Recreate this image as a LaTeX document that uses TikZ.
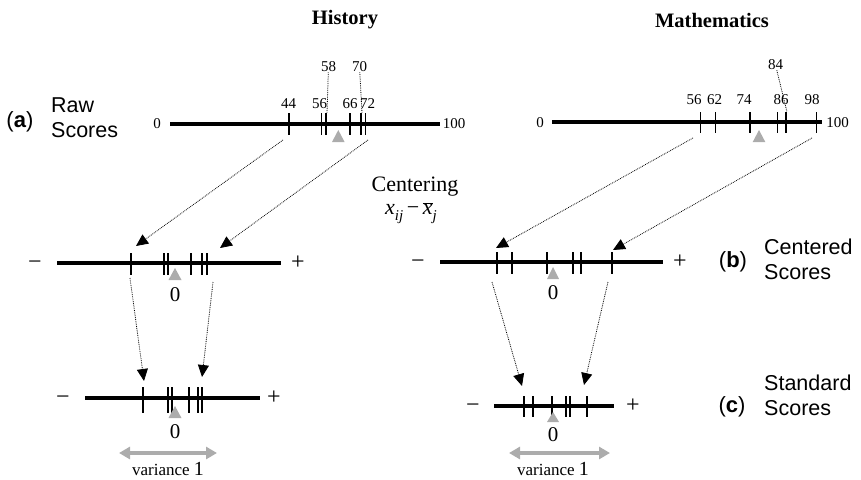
\documentclass[tikz,border=0pt]{standalone}
\usepackage{fontspec}
\setmainfont{Liberation Serif}
\setsansfont{Liberation Sans}
\usetikzlibrary{arrows.meta}
\definecolor{MeanGray}{RGB}{172,172,172}

\begin{document}
\begin{tikzpicture}[x=1pt,y=-1pt,>={Triangle[length=12pt,width=11pt]},
    axisline/.style={line width=4pt},
    tickmark/.style={line width=1.5pt},
    num/.style={inner sep=0pt,font=\fontsize{15}{15}\selectfont},
    sign/.style={inner sep=0pt,anchor=base,font=\fontsize{24}{24}\selectfont},
    zero/.style={inner sep=0pt,font=\fontsize{21}{21}\selectfont},
    title/.style={inner sep=0pt,font=\bfseries\fontsize{20.5}{20.5}\selectfont},
    tag/.style={inner sep=0pt,font=\sffamily\fontsize{22}{22}\selectfont},
    tagtext/.style={inner sep=0pt,anchor=west,align=left,font=\sffamily\fontsize{21.5}{25}\selectfont},
    leader/.style={densely dotted,line width=0.8pt},
    maparrow/.style={->,densely dotted,line width=0.8pt},
    spread/.style={{Triangle[length=11pt,width=12pt]}-{Triangle[length=11pt,width=12pt]},MeanGray,line width=3.5pt},
    varlabel/.style={inner sep=0pt,anchor=base}]
  \useasboundingbox (0,0) rectangle (861,479);

  % titles
  \node[title] (hist) at (345,20) {History};
  \node[title] (math) at (712,20) {Mathematics};

  % (a) raw scores
  \node[tag] (taga) at (20,122) {(\textbf{a})};
  \node[tagtext] (texta) at (51,118) {Raw\\Scores};
  \draw[axisline] (170,123.5) -- (440,123.5);
  \foreach \x in {289,321.7,326,350,361,365.7}
    \draw[tickmark] (\x,113) -- (\x,135);
  \fill[MeanGray] (332,142) -- (338.3,130) -- (344.6,142) -- cycle;
  \node[num] (h0) at (157,124) {0};
  \node[num] (h100) at (454,124) {100};
  \node[num] (h44) at (288.5,104) {44};
  \node[num] (h56) at (319.5,104) {56};
  \node[num] (h66) at (350,104) {66};
  \node[num] (h72) at (367.5,104) {72};
  \node[num] (h58) at (328.5,67) {58};
  \node[num] (h70) at (359.5,67) {70};
  \coordinate (h58t) at (327,113);
  \coordinate (h70t) at (362,113);
  \draw[leader] (h58) -- (h58t);
  \draw[leader] (h70) -- (h70t);

  \draw[axisline] (552,122.3) -- (821.7,122.3);
  \foreach \x in {700.7,715.7,750,777.7,786,816.5}
    \draw[tickmark] (\x,112) -- (\x,133);
  \fill[MeanGray] (752.7,142) -- (759,130) -- (765.3,142) -- cycle;
  \node[num] (m0) at (540,123) {0};
  \node[num] (m100) at (837.5,123) {100};
  \node[num] (m56) at (694,99.5) {56};
  \node[num] (m62) at (714.5,99.5) {62};
  \node[num] (m74) at (744,99.5) {74};
  \node[num] (m86) at (781,99.5) {86};
  \node[num] (m98) at (812,99.5) {98};
  \node[num] (m84) at (775.5,65) {84};
  \coordinate (m84t) at (787,112);
  \draw[leader] (m84) -- (m84t);

  % centering
  \node[inner sep=0pt,font=\fontsize{22}{22}\selectfont] (cent) at (415,187) {Centering};
  \node[inner sep=0pt,font=\fontsize{22}{22}\selectfont] (centf) at (411,213)
    {\itshape x\raisebox{-0.25em}{\fontsize{15}{15}\selectfont ij}\upshape\,−\,$\overline{\mbox{\itshape x}}$\raisebox{-0.25em}{\fontsize{15}{15}\selectfont\itshape j}};

  % (b) centered scores
  \draw[axisline] (57,263) -- (281,263);
  \foreach \x in {131,164,168,191,202,207}
    \draw[tickmark] (\x,253) -- (\x,275);
  \fill[MeanGray] (168.5,280) -- (175,268) -- (181.5,280) -- cycle;
  \node[sign] (hbm) at (35,269) {−};
  \node[sign] (hbp) at (298,269) {+};
  \node[zero] (hb0) at (175,295) {0};

  \draw[axisline] (440,262) -- (663,262);
  \foreach \x in {497,512,547,573,581,612}
    \draw[tickmark] (\x,252) -- (\x,274);
  \fill[MeanGray] (547,279) -- (553,267) -- (559,279) -- cycle;
  \node[sign] (mbm) at (418,268) {−};
  \node[sign] (mbp) at (680,268) {+};
  \node[zero] (mb0) at (553,293) {0};

  \node[tag] (tagb) at (733,262) {(\textbf{b})};
  \node[tagtext] (textb) at (764,259) {Centered\\Scores};

  % (c) standard scores
  \draw[axisline] (85,398) -- (260,398);
  \foreach \x in {143,168,172,189,198,202}
    \draw[tickmark] (\x,387) -- (\x,413);
  \fill[MeanGray] (168.5,418) -- (175,406) -- (181.5,418) -- cycle;
  \node[sign] (hcm) at (63,404) {−};
  \node[sign] (hcp) at (274,404) {+};
  \node[zero] (hc0) at (175,432) {0};
  \coordinate (hvl) at (119,453);
  \coordinate (hvr) at (217,453);
  \draw[spread] (hvl) -- (hvr);
  \node[varlabel] (hvar) at (168,475) {\fontsize{17}{17}\selectfont variance \fontsize{20}{20}\selectfont 1};

  \draw[axisline] (494,406) -- (614,406);
  \foreach \x in {524,533,552,566,570,587}
    \draw[tickmark] (\x,396) -- (\x,417);
  \fill[MeanGray] (547,422) -- (553,412) -- (559,422) -- cycle;
  \node[sign] (mcm) at (473,412) {−};
  \node[sign] (mcp) at (633,412) {+};
  \node[zero] (mc0) at (553,435) {0};
  \coordinate (mvl) at (509,453);
  \coordinate (mvr) at (610,453);
  \draw[spread] (mvl) -- (mvr);
  \node[varlabel] (mvar) at (553,475) {\fontsize{17}{17}\selectfont variance \fontsize{20}{20}\selectfont 1};

  \node[tag] (tagc) at (732,407) {(\textbf{c})};
  \node[tagtext] (textc) at (764,395) {Standard\\Scores};

  % mapping arrows
  \coordinate (ha1) at (283,140);
  \coordinate (ha2) at (368,140);
  \coordinate (hb1) at (136,246);
  \coordinate (hb2) at (220,248);
  \coordinate (ma1) at (693,138);
  \coordinate (ma2) at (812,138);
  \coordinate (mb1) at (496,248);
  \coordinate (mb2) at (613,250);
  \draw[maparrow] (ha1) -- (hb1);
  \draw[maparrow] (ha2) -- (hb2);
  \draw[maparrow] (ma1) -- (mb1);
  \draw[maparrow] (ma2) -- (mb2);

  \coordinate (hb3) at (130,278);
  \coordinate (hb4) at (213,282);
  \coordinate (hc1) at (144,381);
  \coordinate (hc2) at (202,377);
  \coordinate (mb3) at (492,282);
  \coordinate (mb4) at (608,282);
  \coordinate (mc1) at (522,386);
  \coordinate (mc2) at (584,385);
  \draw[maparrow] (hb3) -- (hc1);
  \draw[maparrow] (hb4) -- (hc2);
  \draw[maparrow] (mb3) -- (mc1);
  \draw[maparrow] (mb4) -- (mc2);
\end{tikzpicture}
\end{document}
